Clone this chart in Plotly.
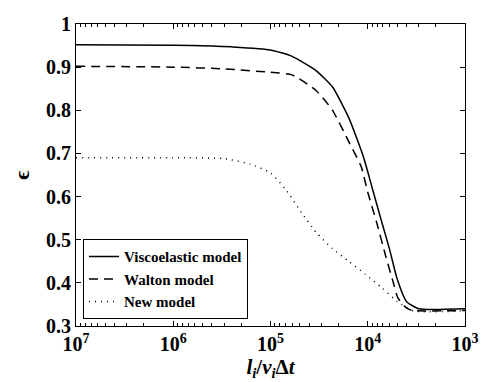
import plotly.graph_objects as go

# Data
x_visco = [1e7, 1e6, 4e5, 2.5e5, 1e5, 6e4, 3.4e4, 2.3e4, 1.55e4, 1.1e4, 9e3, 7.5e3, 6e3, 5e3, 4e3, 3e3, 1e3]
y_visco = [0.952, 0.951, 0.949, 0.947, 0.940, 0.925, 0.892, 0.854, 0.780, 0.690, 0.620, 0.556, 0.480, 0.410, 0.357, 0.340, 0.340]

x_walton = [1e7, 1e6, 3e5, 1e5, 6e4, 3.4e4, 2.3e4, 1.55e4, 1.17e4, 1e4, 8.1e3, 6.5e3, 5.5e3, 4.9e3, 4e3, 3.5e3, 1e3]
y_walton = [0.902, 0.900, 0.896, 0.888, 0.882, 0.846, 0.800, 0.725, 0.670, 0.610, 0.540, 0.460, 0.403, 0.365, 0.342, 0.336, 0.336]

x_new = [1e7, 1e6, 3e5, 1.6e5, 1e5, 7e4, 4.8e4, 3.4e4, 2.3e4, 1.55e4, 1.05e4, 7.1e3, 5e3, 3.4e3, 1e3]
y_new = [0.690, 0.690, 0.688, 0.675, 0.655, 0.617, 0.563, 0.517, 0.479, 0.449, 0.419, 0.388, 0.357, 0.335, 0.335]

x_tickvals = [1e7, 1e6, 1e5, 1e4, 1e3]
x_ticktext = ["10<sup>7</sup>", "10<sup>6</sup>", "10<sup>5</sup>", "10<sup>4</sup>", "10<sup>3</sup>"]
y_tickvals = [0.3, 0.4, 0.5, 0.6, 0.7, 0.8, 0.9, 1.0]
y_ticktext = ["0.3", "0.4", "0.5", "0.6", "0.7", "0.8", "0.9", "1"]
x_minorvals = [m * 10 ** e for e in range(3, 7) for m in range(2, 10)]

FONT = "Liberation Serif"

fig = go.Figure()
fig.add_trace(go.Scatter(x=x_visco, y=y_visco, mode="lines", name="Viscoelastic model",
                         line=dict(color="black", width=1.5, shape="spline", smoothing=0.5)))
fig.add_trace(go.Scatter(x=x_walton, y=y_walton, mode="lines", name="Walton model",
                         line=dict(color="black", width=1.5, dash="9px,6px", shape="spline", smoothing=0.5)))
fig.add_trace(go.Scatter(x=x_new, y=y_new, mode="lines", name="New model",
                         line=dict(color="black", width=1.5, dash="1px,5px", shape="spline", smoothing=0.5)))

# page body has an 8px default margin, so the figure is sized/offset to compensate
fig.update_layout(
    width=479, height=374,
    margin=dict(l=68, r=22, t=5, b=56),
    paper_bgcolor="white", plot_bgcolor="white",
    font=dict(family=FONT, size=20, color="black", weight="bold"),
    showlegend=True,
    legend=dict(x=0.018, y=0.022, xanchor="left", yanchor="bottom",
                bordercolor="black", borderwidth=1, bgcolor="white",
                font=dict(family=FONT, size=15, weight="bold"), tracegroupgap=0,
                itemwidth=30),
)
fig.update_xaxes(
    type="log", range=[7, 3],
    tickvals=x_tickvals, ticktext=x_ticktext, ticklabeloverflow="allow",
    ticks="inside", ticklen=5, tickcolor="black",
    showline=True, linecolor="black", linewidth=1, mirror="ticks",
    showgrid=False, zeroline=False,
    minor=dict(ticks="inside", ticklen=3, tickcolor="black", showgrid=False, tickvals=x_minorvals),
    title=dict(text="<i>l<sub>i</sub></i>/<i>v<sub>i</sub></i>Δ<i>t</i>", font=dict(size=21), standoff=4),
)
fig.update_yaxes(
    range=[0.3, 1.0],
    tickvals=y_tickvals, ticktext=y_ticktext, ticklabeloverflow="allow",
    ticks="inside", ticklen=5, tickcolor="black",
    showline=True, linecolor="black", linewidth=1, mirror="ticks",
    showgrid=False, zeroline=False,
    title=dict(text="ϵ", font=dict(size=22), standoff=10),
)

fig.write_html("out.html")
